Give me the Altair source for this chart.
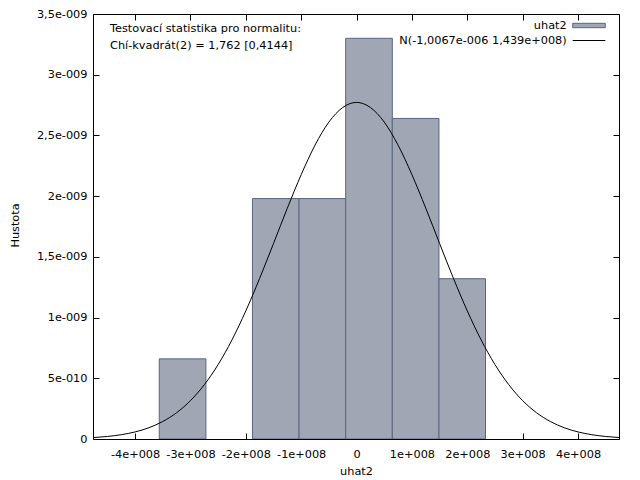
import json
import altair as alt
import pandas as pd

# ---- data ----
BIN_LEFT = [-3.563e8, -2.721e8, -1.880e8, -1.038e8, -0.196e8, 0.646e8, 1.488e8]
BIN_RIGHT = [-2.721e8, -1.880e8, -1.038e8, -0.196e8, 0.646e8, 1.488e8, 2.329e8]
DENSITY = [6.6e-10, 0.0, 1.98e-9, 1.98e-9, 3.30e-9, 2.64e-9, 1.32e-9]

CURVE_X = [-4.75e8, -4.5e8, -4.25e8, -4.0e8, -3.75e8, -3.5e8, -3.25e8, -3.0e8, -2.75e8,
           -2.5e8, -2.25e8, -2.0e8, -1.75e8, -1.5e8, -1.25e8, -1.0e8, -0.75e8, -0.5e8,
           -0.25e8, 0.0, 0.25e8, 0.5e8, 0.75e8, 1.0e8, 1.25e8, 1.5e8, 1.75e8, 2.0e8,
           2.25e8, 2.5e8, 2.75e8, 3.0e8, 3.25e8, 3.5e8, 3.75e8, 4.0e8, 4.25e8, 4.5e8, 4.75e8]
CURVE_Y = [0.0119e-9, 0.0208e-9, 0.0354e-9, 0.0582e-9, 0.0929e-9, 0.144e-9, 0.2165e-9,
           0.316e-9, 0.447e-9, 0.613e-9, 0.816e-9, 1.055e-9, 1.323e-9, 1.610e-9, 1.901e-9,
           2.177e-9, 2.420e-9, 2.610e-9, 2.730e-9, 2.772e-9, 2.730e-9, 2.610e-9, 2.420e-9,
           2.177e-9, 1.901e-9, 1.610e-9, 1.323e-9, 1.055e-9, 0.816e-9, 0.613e-9, 0.447e-9,
           0.316e-9, 0.2165e-9, 0.144e-9, 0.0929e-9, 0.0582e-9, 0.0354e-9, 0.0208e-9, 0.0119e-9]

X_DOMAIN = [-4.76e8, 4.74e8]
Y_DOMAIN = [0, 3.5e-9]
XTICKS = [-4e8, -3e8, -2e8, -1e8, 0, 1e8, 2e8, 3e8, 4e8]
XLABELS = ["-4e+008", "-3e+008", "-2e+008", "-1e+008", "0", "1e+008", "2e+008", "3e+008", "4e+008"]
YTICKS = [0, 5e-10, 1e-9, 1.5e-9, 2e-9, 2.5e-9, 3e-9, 3.5e-9]
YLABELS = ["0", "5e-010", "1e-009", "1,5e-009", "2e-009", "2,5e-009", "3e-009", "3,5e-009"]

ANNOT_1 = "Testovací statistika pro normalitu:"
ANNOT_2 = "Chí-kvadrát(2) = 1,762 [0,4144]"
LEGEND_BARS = "uhat2"
LEGEND_LINE = "N(-1,0067e-006 1,439e+008)"
X_TITLE = "uhat2"
Y_TITLE = "Hustota"

FONT = "DejaVu Sans"
FS = 11.3
BAR_FILL = "#a0a6b4"
BAR_STROKE = "#5b6580"
W, H = 526, 425

bins = pd.DataFrame({"left": BIN_LEFT, "right": BIN_RIGHT, "density": DENSITY})
curve = pd.DataFrame({"x": CURVE_X, "y": CURVE_Y})

xs = alt.Scale(domain=X_DOMAIN, nice=False, zero=False)
ys = alt.Scale(domain=Y_DOMAIN, nice=False, zero=False)

x_expr = json.dumps(XLABELS) + "[round(datum.value / 100000000) + 4]"
y_expr = json.dumps(YLABELS) + "[round(datum.value / 5e-10)]"

x_main = alt.Axis(orient="bottom", values=XTICKS, labelExpr=x_expr, ticks=False, tickSize=0,
                  domain=True, domainColor="black", grid=False, zindex=1,
                  labelBaseline="alphabetic", labelPadding=18, labelFlush=False,
                  title=X_TITLE, titleBaseline="alphabetic", titleY=35.5)
y_main = alt.Axis(orient="left", values=YTICKS, labelExpr=y_expr, ticks=False, tickSize=0,
                  domain=True, domainColor="black", grid=False, zindex=1,
                  labelPadding=6, labelFlush=False,
                  title=Y_TITLE, titleX=-75, titleY=211, titleBaseline="alphabetic",
                  titleAlign="center", titleAngle=270)

tick_common = dict(labels=False, domain=False, grid=False, ticks=True, tickSize=6,
                   tickColor="black", title=None, zindex=0)
x_in_bottom = alt.Axis(orient="top", offset=-H, values=XTICKS, **tick_common)
y_in_left = alt.Axis(orient="right", offset=-W, values=YTICKS, **tick_common)
x_in_top = alt.Axis(orient="bottom", offset=-H, values=XTICKS, **tick_common)
y_in_right = alt.Axis(orient="left", offset=-W, values=YTICKS, **tick_common)

bars = alt.Chart(bins).transform_filter("datum.density > 0").mark_rect(
    fill=BAR_FILL, stroke=BAR_STROKE, strokeWidth=1
).encode(
    x=alt.X("left:Q", scale=xs, axis=x_main),
    x2="right:Q",
    y=alt.Y("density:Q", scale=ys, axis=y_main),
    y2=alt.datum(0),
)

line = alt.Chart(curve).mark_line(color="black", strokeWidth=1, interpolate="monotone", clip=True).encode(
    x=alt.X("x:Q", scale=xs, axis=x_in_bottom),
    y=alt.Y("y:Q", scale=ys, axis=y_in_left),
)

ghost = alt.Chart(curve).mark_line(opacity=0, clip=True).encode(
    x=alt.X("x:Q", scale=xs, axis=x_in_top),
    y=alt.Y("y:Q", scale=ys, axis=y_in_right),
)


def label(txt, x, y, align):
    return alt.Chart(pd.DataFrame({"t": [txt]})).mark_text(
        align=align, baseline="middle", font=FONT, fontSize=FS, color="black"
    ).encode(x=alt.value(x), y=alt.value(y), text="t:N")


ann1 = label(ANNOT_1, 17, 15.3, "left")
ann2 = label(ANNOT_2, 17, 31.7, "left")
leg1 = label(LEGEND_BARS, 473.7, 11.5, "right")
leg2 = label(LEGEND_LINE, 473.7, 26.5, "right")
swatch = alt.Chart(pd.DataFrame({"t": [LEGEND_BARS]})).mark_rect(
    fill=BAR_FILL, stroke=BAR_STROKE, strokeWidth=1
).encode(x=alt.value(479.7), x2=alt.value(512.3), y=alt.value(9.3), y2=alt.value(13.7))
swline = alt.Chart(pd.DataFrame({"t": [LEGEND_LINE]})).mark_rule(
    color="black", strokeWidth=1
).encode(x=alt.value(479.7), x2=alt.value(512.3), y=alt.value(26.5))

chart = alt.layer(bars, line, ghost, ann1, ann2, leg1, leg2, swatch, swline).resolve_axis(
    x="independent", y="independent"
).properties(
    width=W, height=H,
    padding={"left": 85, "top": 6, "right": 12, "bottom": 41},
    autosize=alt.AutoSizeParams(type="none"),
).configure_view(
    stroke="black", strokeWidth=1
).configure_axis(
    labelFont=FONT, labelFontSize=FS, labelColor="black",
    titleFont=FONT, titleFontSize=FS, titleColor="black", titleFontWeight="normal",
)

chart.save("out.html", embed_options={"renderer": "svg", "actions": False})
